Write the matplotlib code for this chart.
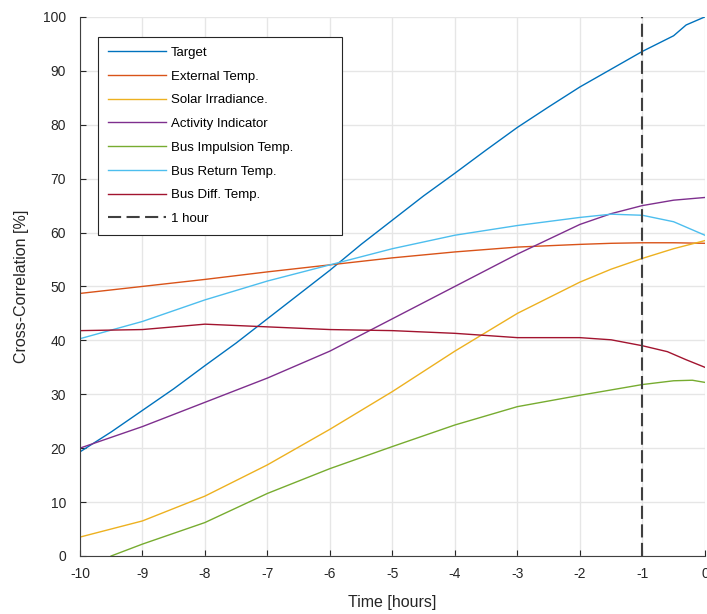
import numpy as np
import matplotlib.pyplot as plt

plt.rcParams['font.family'] = ['Liberation Sans', 'DejaVu Sans']
plt.rcParams['axes.unicode_minus'] = False

# values (x in hours before now, y in %)
x_target = [-10, -9.5, -9, -8.5, -8, -7.5, -7, -6.5, -6, -5.5, -5, -4.5, -4, -3.5, -3, -2.5, -2, -1.5, -1, -0.5, -0.3, 0]
target = [19.3, 23, 27, 31, 35.3, 39.5, 44, 48.5, 53, 57.8, 62.3, 66.8, 71, 75.3, 79.5, 83.3, 87, 90.3, 93.6, 96.5, 98.5, 100]

x_hours = [-10, -9, -8, -7, -6, -5, -4, -3, -2, -1.5, -1, -0.5, 0]
external = [48.7, 50, 51.3, 52.7, 54, 55.3, 56.4, 57.3, 57.8, 58.0, 58.1, 58.1, 58]
solar = [3.5, 6.5, 11.1, 16.9, 23.5, 30.5, 38, 45, 50.8, 53.2, 55.2, 57, 58.5]
activity = [20, 24, 28.5, 33, 38, 44, 50, 56, 61.5, 63.5, 65, 66, 66.5]
bus_return = [40.3, 43.5, 47.5, 51, 54, 57, 59.5, 61.3, 62.8, 63.4, 63.2, 62, 59.5]

x_impulsion = [-9.5, -9, -8, -7, -6, -5, -4, -3, -2, -1, -0.5, -0.2, 0]
impulsion = [0, 2.2, 6.2, 11.6, 16.2, 20.3, 24.3, 27.7, 29.8, 31.8, 32.5, 32.6, 32.2]

x_diff = [-10, -9, -8, -7, -6, -5, -4, -3, -2, -1.5, -1, -0.6, -0.3, 0]
bus_diff = [41.8, 42, 43, 42.5, 42, 41.8, 41.3, 40.5, 40.5, 40.1, 39, 37.9, 36.4, 35]

fig = plt.figure(figsize=(7.07, 6.14), dpi=100)
ax = fig.add_axes([0.113, 0.0945, 0.884, 0.878])

ax.plot(x_target, target, color='#0072BD', lw=1, label='Target')
ax.plot(x_hours, external, color='#D95319', lw=1, label='External Temp.')
ax.plot(x_hours, solar, color='#EDB120', lw=1, label='Solar Irradiance.')
ax.plot(x_hours, activity, color='#7E2F8E', lw=1, label='Activity Indicator')
ax.plot(x_impulsion, impulsion, color='#77AC30', lw=1, label='Bus Impulsion Temp.')
ax.plot(x_hours, bus_return, color='#4DBEEE', lw=1, label='Bus Return Temp.')
ax.plot(x_diff, bus_diff, color='#A2142F', lw=1, label='Bus Diff. Temp.')
ax.axvline(-1, color='#404040', lw=1.5, ls=(0, (6.3, 2.6)), label='1 hour')

ax.set_xlim(-10, 0)
ax.set_ylim(0, 100)
ax.set_xticks(range(-10, 1))
ax.set_yticks(range(0, 101, 10))
ax.grid(True, color='#e6e6e6', lw=1)
ax.set_axisbelow(True)
for s in ['top', 'right']:
    ax.spines[s].set_visible(False)
for s in ['left', 'bottom']:
    ax.spines[s].set_color('#404040')
ax.tick_params(direction='in', colors='#262626', labelsize=10, length=4)
ax.tick_params(axis='y', pad=10)
ax.tick_params(axis='x', pad=8)
ax.set_xlabel('Time [hours]', fontsize=11.5, color='#262626', labelpad=10)
ax.set_ylabel('Cross-Correlation [%]', fontsize=11.5, color='#262626', labelpad=10)

leg = ax.legend(loc='upper left', bbox_to_anchor=(0.029, 0.598, 0.39, 0.365),
                mode='expand', borderaxespad=0, fontsize=9.5,
                handlelength=4.4, handletextpad=0.4, labelspacing=0.87, borderpad=0.75,
                fancybox=False, framealpha=1, edgecolor='#262626')
leg.get_frame().set_linewidth(0.8)

fig.savefig('out.png', dpi=100)
